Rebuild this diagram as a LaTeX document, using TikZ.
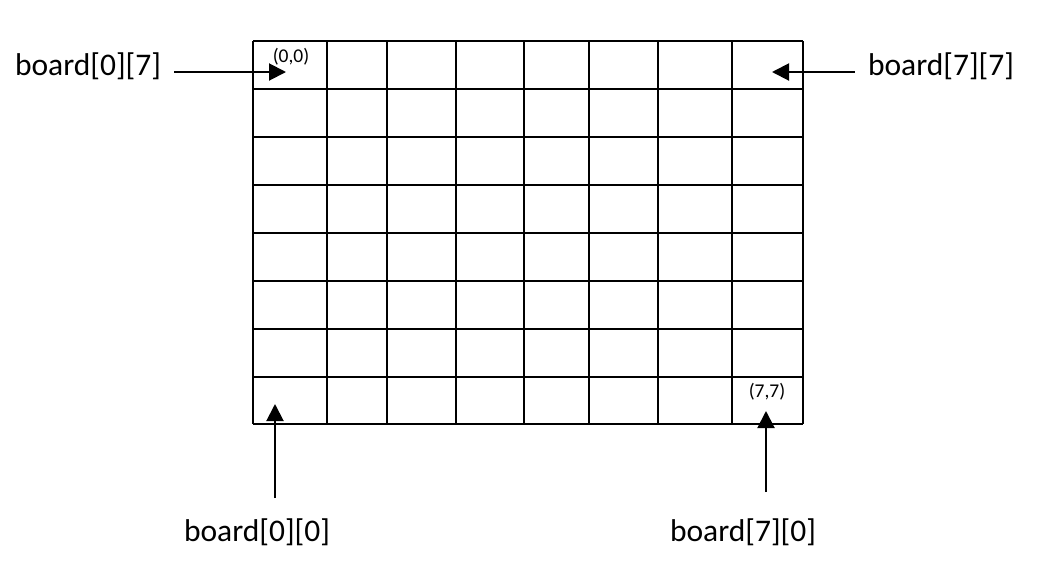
\documentclass[tikz,border=0pt]{standalone}
\usepackage{fontspec}
\setmainfont{Carlito}
\usepackage{tikz}
\usetikzlibrary{arrows.meta}
\newcommand{\drawgridline}{\draw[line width=2pt]}
\newcommand{\boardlabel}[3]{
\node[font=\fontsize{31.5}{36}\selectfont, anchor=base, inner xsep=13pt, inner ysep=20pt] (#1) at (#2) {#3};
}
\newcommand{\cornerlabel}[3]{\node[font=\fontsize{19.5}{22}\selectfont] (#1) at (#2) {#3};}
\tikzset{pointer/.style={line width=2pt, -{Triangle[length=17pt,width=17pt]}}}

\begin{document}
\begin{tikzpicture}[x=1pt,y=-1pt]
\useasboundingbox (0,0) rectangle (1042,574);
% the board
\foreach \x in {253,327,387,456,524,589,658,732,803}{
  \drawgridline (\x,41)--(\x,424);
}
\foreach \y in {41,89,137,185,233,281,329,377,424}{
  \drawgridline (253,\y)--(803,\y);
}
\cornerlabel{c00}{291,57}{(0,0)}
\cornerlabel{c77}{767,392}{(7,7)}
\boardlabel{b07}{88,75}{board[0][7]}
\boardlabel{b77}{941,75}{board[7][7]}
\boardlabel{b00}{257,541}{board[0][0]}
\boardlabel{b70}{743,541}{board[7][0]}
\coordinate (t07) at (286,72);
\coordinate (t77) at (772,72);
\coordinate (t00) at (275,404);
\coordinate (t70) at (766,411);
\draw[pointer] (b07.east |- t07) -- (t07);
\draw[pointer] (b77.west |- t77) -- (t77);
\draw[pointer] (t00 |- b00.north) -- (t00);
\draw[pointer, shorten <=6pt] (t70 |- b70.north) -- (t70);
\end{tikzpicture}
\end{document}
